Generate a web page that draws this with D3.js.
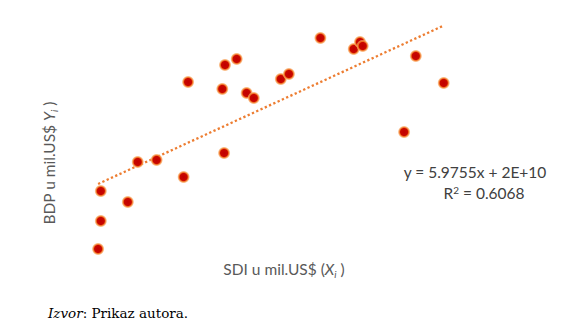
<!DOCTYPE html>
<meta charset="utf-8">
<script src="https://d3js.org/d3.v7.min.js"></script>
<style>
  body { margin: 0; background: #fff; }
</style>
<div id="chart"></div>
<script>
// SDI (x) and BDP (y), in billions US$
var sdi = [20.9, 21.2, 21.2, 24.2, 25.3, 27.4, 30.4, 30.9, 34.9, 34.7, 35.0, 36.3,
           37.4, 38.2, 41.2, 42.1, 45.6, 49.3, 50.0, 50.3, 54.9, 56.2, 59.3];
var bdp = [50.6, 91.2, 134.6, 118.7, 176.7, 179.6, 154.9, 292.6, 189.7, 282.5, 317.3, 326.0,
           276.7, 269.4, 296.9, 304.2, 356.4, 340.4, 350.6, 344.8, 220.1, 330.3, 291.2];

// trend line from the chart: y = 5.9755x + 2E+10 (intercept in billions)
var slope = 5.9755, intercept = 20;

var width = 583, height = 334;
var font = "Lato, 'Open Sans', sans-serif";

var svg = d3.select("#chart").append("svg")
    .attr("width", width)
    .attr("height", height);

var x = d3.scaleLinear().domain([20, 60]).range([90, 450]);
var y = d3.scaleLinear().domain([0, 400]).range([283.9, 7.9]);

// marker with a soft orange glow
var defs = svg.append("defs");
var grad = defs.append("radialGradient").attr("id", "glow");
grad.append("stop").attr("offset", "0%").attr("stop-color", "#c00000");
grad.append("stop").attr("offset", "55%").attr("stop-color", "#c90800");
grad.append("stop").attr("offset", "68%").attr("stop-color", "#ee6a1e");
grad.append("stop").attr("offset", "85%").attr("stop-color", "#f7a35c").attr("stop-opacity", 0.7);
grad.append("stop").attr("offset", "100%").attr("stop-color", "#fbd0a8").attr("stop-opacity", 0);

// trend line
var xExt = d3.extent(sdi);
svg.append("line")
    .attr("x1", x(xExt[0])).attr("y1", y(slope * xExt[0] + intercept))
    .attr("x2", x(xExt[1])).attr("y2", y(slope * xExt[1] + intercept))
    .attr("stroke", "#ed7d31")
    .attr("stroke-width", 2.3)
    .attr("stroke-dasharray", "2.3,2.4");

// points
svg.append("g")
  .selectAll("circle")
  .data(d3.zip(sdi, bdp))
  .join("circle")
    .attr("cx", d => x(d[0]))
    .attr("cy", d => y(d[1]))
    .attr("r", 6.5)
    .attr("fill", "url(#glow)");

// equation
var eq = svg.append("text")
    .attr("text-anchor", "middle")
    .attr("font-family", font)
    .attr("font-size", 15.5)
    .attr("fill", "#404040");
eq.append("tspan").attr("x", 475).attr("y", 178).text("y = 5.9755x + 2E+10");
var r2 = eq.append("tspan").attr("x", 484).attr("y", 199);
r2.append("tspan").text("R");
r2.append("tspan").attr("font-size", 10).attr("dy", -5).text("2");
r2.append("tspan").attr("dy", 5).text(" = 0.6068");

// axis titles
var xt = svg.append("text")
    .attr("x", 284)
    .attr("y", 275)
    .attr("text-anchor", "middle")
    .attr("font-family", font)
    .attr("font-size", 15.5)
    .attr("fill", "#595959");
xt.append("tspan").text("SDI u mil.US$ (");
xt.append("tspan").attr("font-style", "italic").text("X");
xt.append("tspan").attr("font-style", "italic").attr("font-size", 10).attr("dy", 3).text("i");
xt.append("tspan").attr("dy", -3).text(" )");

var yt = svg.append("text")
    .attr("transform", "translate(55,163) rotate(-90)")
    .attr("text-anchor", "middle")
    .attr("font-family", font)
    .attr("font-size", 15.5)
    .attr("fill", "#595959");
yt.append("tspan").text("BDP u mil.US$ ");
yt.append("tspan").attr("font-style", "italic").text("Y");
yt.append("tspan").attr("font-style", "italic").attr("font-size", 10).attr("dy", 3).text("i");
yt.append("tspan").attr("dy", -3).text(" )");

// source note
var src = svg.append("text")
    .attr("x", 48)
    .attr("y", 318)
    .attr("font-family", "'DejaVu Serif', 'Liberation Serif', serif")
    .attr("font-size", 13.5)
    .attr("fill", "#000");
src.append("tspan").attr("font-style", "italic").text("Izvor");
src.append("tspan").text(": Prikaz autora.");
</script>
